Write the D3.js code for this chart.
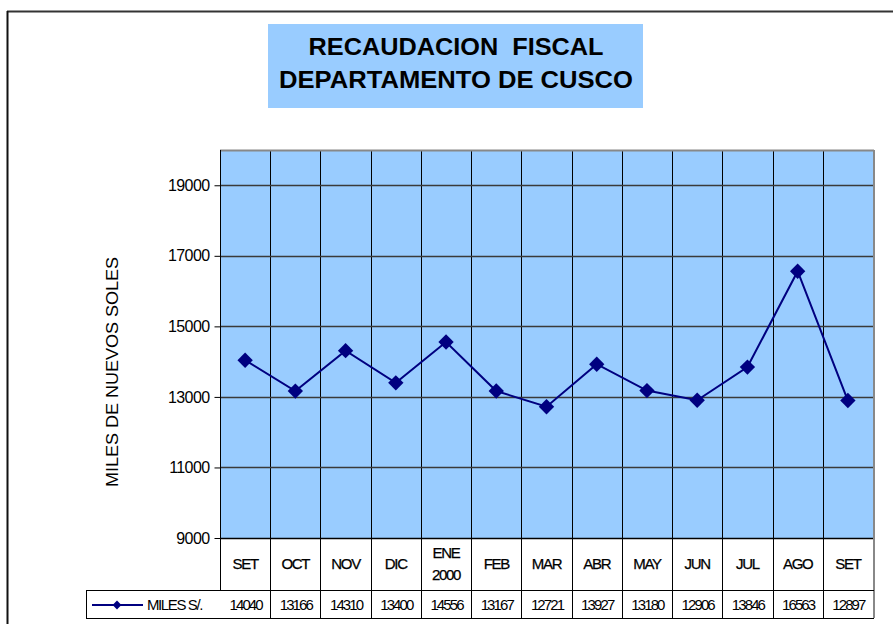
<!DOCTYPE html>
<html>
<head>
<meta charset="utf-8">
<script src="https://cdn.jsdelivr.net/npm/d3@7"></script>
<style>
  body { margin: 0; background: #fff; }
  svg { display: block; font-family: "Liberation Sans", Arial, sans-serif; }
  text { white-space: pre; }
</style>
</head>
<body>
<div id="chart"></div>
<script>
// data
const months = ["SET", "OCT", "NOV", "DIC", "ENE\n2000", "FEB", "MAR", "ABR", "MAY", "JUN", "JUL", "AGO", "SET"];
const recaudacion = [14040, 13166, 14310, 13400, 14556, 13167, 12721, 13927, 13180, 12906, 13846, 16563, 12897];
const yTicks = [9000, 11000, 13000, 15000, 17000, 19000];
const seriesName = "MILES S/.";
const titleLines = ["RECAUDACION  FISCAL", "DEPARTAMENTO DE CUSCO"];
const yLabel = "MILES DE NUEVOS SOLES";

const W = 893, H = 624;
const plot = {left: 220, right: 873, top: 150, bottom: 538};
const tableRow1 = 590, tableRow2 = 618, legendLeft = 86;
const navy = "#000080";

const svg = d3.select("#chart").append("svg")
    .attr("width", W).attr("height", H);

// outer frame
svg.append("line").attr("x1", 7).attr("x2", W).attr("y1", 11.5).attr("y2", 11.5)
    .attr("stroke", "#333").attr("stroke-width", 2);
svg.append("line").attr("x1", 7.5).attr("x2", 7.5).attr("y1", 11).attr("y2", H)
    .attr("stroke", "#111").attr("stroke-width", 2);

// title box
svg.append("rect").attr("x", 268).attr("y", 24).attr("width", 375).attr("height", 84)
    .attr("fill", "#99CCFF");
svg.selectAll("text.title").data(titleLines).join("text")
    .attr("class", "title")
    .attr("x", 456)
    .attr("y", (d, i) => 55 + i * 33)
    .attr("text-anchor", "middle")
    .attr("font-size", 24).attr("font-weight", "bold")
    .attr("textLength", (d, i) => i === 0 ? 295 : 354)
    .attr("lengthAdjust", "spacingAndGlyphs")
    .text(d => d);

const x = d3.scaleBand()
    .domain(d3.range(months.length))
    .range([plot.left, plot.right]);

const y = d3.scaleLinear()
    .domain([9000, 20000])
    .range([plot.bottom, plot.top]);

// plot area
svg.append("rect")
    .attr("x", plot.left).attr("y", plot.top)
    .attr("width", plot.right - plot.left).attr("height", plot.bottom - plot.top)
    .attr("fill", "#99CCFF");

// vertical gridlines (category boundaries), continued through the data table
const bounds = d3.range(months.length + 1).map(i => i < months.length ? x(i) : plot.right);
svg.selectAll("line.vgrid").data(bounds.slice(1, -1)).join("line")
    .attr("class", "vgrid")
    .attr("x1", d => Math.round(d) + 0.5).attr("x2", d => Math.round(d) + 0.5)
    .attr("y1", plot.top).attr("y2", tableRow2)
    .attr("stroke", "#000").attr("stroke-width", 1);

// horizontal gridlines
svg.selectAll("line.hgrid").data(yTicks.slice(1)).join("line")
    .attr("class", "hgrid")
    .attr("x1", plot.left).attr("x2", plot.right)
    .attr("y1", d => Math.round(y(d)) + 0.5).attr("y2", d => Math.round(y(d)) + 0.5)
    .attr("stroke", "#3a3a3a").attr("stroke-width", 1.5);

// plot borders
svg.append("line").attr("x1", plot.left).attr("x2", plot.right + 1)
    .attr("y1", plot.top + 0.5).attr("y2", plot.top + 0.5)
    .attr("stroke", "#888").attr("stroke-width", 2);
svg.append("line").attr("x1", plot.right + 1).attr("x2", plot.right + 1)
    .attr("y1", plot.top).attr("y2", tableRow2)
    .attr("stroke", "#888").attr("stroke-width", 2);

// y axis
const yAxis = d3.axisLeft(y).tickValues(yTicks).tickFormat(d3.format("d"))
    .tickSize(6).tickPadding(5);
const gy = svg.append("g")
    .attr("transform", `translate(${plot.left + 0.5},0)`)
    .call(yAxis);
gy.select(".domain").attr("d", `M-0,${plot.top}V${tableRow1}`).attr("stroke", "#000");
gy.selectAll(".tick line").attr("stroke", "#000");
gy.selectAll(".tick text")
    .attr("font-size", 16).attr("font-family", "Liberation Sans, Arial, sans-serif")
    .attr("letter-spacing", -0.6).attr("fill", "#000");

svg.append("text")
    .attr("transform", `translate(118,${372}) rotate(-90)`)
    .attr("text-anchor", "middle")
    .attr("font-size", 16)
    .attr("textLength", 230).attr("lengthAdjust", "spacingAndGlyphs")
    .text(yLabel);

// x axis baseline (bottom of plot)
svg.append("line").attr("x1", plot.left).attr("x2", plot.right)
    .attr("y1", plot.bottom + 0.5).attr("y2", plot.bottom + 0.5)
    .attr("stroke", "#000").attr("stroke-width", 1.5);

// data table lines
[tableRow1, tableRow2].forEach(yy => {
    svg.append("line").attr("x1", legendLeft).attr("x2", plot.right + 1)
        .attr("y1", yy + 0.5).attr("y2", yy + 0.5)
        .attr("stroke", "#000").attr("stroke-width", 1);
});
svg.append("line").attr("x1", legendLeft + 0.5).attr("x2", legendLeft + 0.5)
    .attr("y1", tableRow1).attr("y2", tableRow2)
    .attr("stroke", "#000").attr("stroke-width", 1);

// category labels
const cat = svg.selectAll("text.cat").data(months).join("text")
    .attr("class", "cat")
    .attr("text-anchor", "middle")
    .attr("font-size", 15).attr("letter-spacing", -1.3)
    .attr("stroke", "#000").attr("stroke-width", 0.25);
cat.each(function (d, i) {
    const lines = d.split("\n");
    const cx = x(i) + x.bandwidth() / 2;
    const t = d3.select(this);
    lines.forEach((ln, k) => {
        t.append("tspan")
            .attr("x", cx)
            .attr("y", lines.length === 1 ? 569 : 558 + k * 22)
            .text(ln);
    });
});

// values row
svg.selectAll("text.val").data(recaudacion).join("text")
    .attr("class", "val")
    .attr("x", (d, i) => x(i) + x.bandwidth() / 2 + 0.5)
    .attr("y", 610)
    .attr("text-anchor", "middle")
    .attr("font-size", 15).attr("letter-spacing", -1.9)
    .text(d => d);

// legend key
const diamond = d3.symbol().type(d3.symbolDiamond2);
svg.append("line").attr("x1", 92).attr("x2", 143).attr("y1", 605).attr("y2", 605)
    .attr("stroke", navy).attr("stroke-width", 2);
svg.append("path").attr("d", diamond.size(50)())
    .attr("transform", "translate(117,605)").attr("fill", navy);
svg.append("text").attr("x", 147).attr("y", 610)
    .attr("font-size", 15).attr("letter-spacing", -1.4)
    .text(seriesName);

// series line and markers
const line = d3.line()
    .x((d, i) => x(i) + x.bandwidth() / 2)
    .y(d => y(d));
svg.append("path").datum(recaudacion)
    .attr("d", line)
    .attr("fill", "none").attr("stroke", navy).attr("stroke-width", 2);
svg.selectAll("path.mark").data(recaudacion).join("path")
    .attr("class", "mark")
    .attr("d", diamond.size(150)())
    .attr("transform", (d, i) => `translate(${x(i) + x.bandwidth() / 2},${y(d)})`)
    .attr("fill", navy);
</script>
</body>
</html>
